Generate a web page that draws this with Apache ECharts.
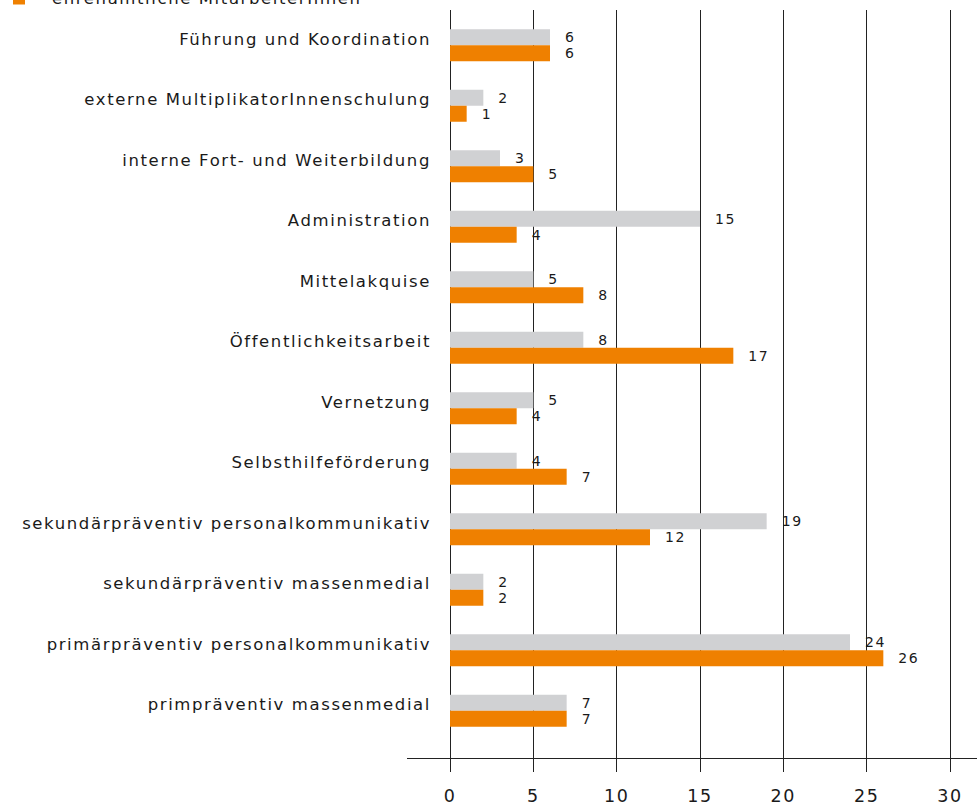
<!DOCTYPE html>
<html>
<head>
<meta charset="utf-8">
<script src="https://cdn.jsdelivr.net/npm/echarts@6/dist/echarts.min.js"></script>
<style>
  html, body { margin: 0; padding: 0; background: #fff; }
  #chart { width: 977px; height: 805px; }
  /* wide tracking for all chart text */
  #chart svg text { letter-spacing: 1.6px; }
</style>
</head>
<body>
<div id="chart"></div>
<script>
// Tätigkeitsbereiche, von oben nach unten
const categories = [
  'Führung und Koordination',
  'externe MultiplikatorInnenschulung',
  'interne Fort- und Weiterbildung',
  'Administration',
  'Mittelakquise',
  'Öffentlichkeitsarbeit',
  'Vernetzung',
  'Selbsthilfeförderung',
  'sekundärpräventiv personalkommunikativ',
  'sekundärpräventiv massenmedial',
  'primärpräventiv personalkommunikativ',
  'primpräventiv massenmedial'
];
const seriesNames = ['hauptamtliche MitarbeiterInnen', 'ehrenamtliche MitarbeiterInnen'];
const hauptamtlich = [6, 2, 3, 15, 5, 8, 5, 4, 19, 2, 24, 7];
const ehrenamtlich = [6, 1, 5, 4, 8, 17, 4, 7, 12, 2, 26, 7];
const xTicks = { min: 0, max: 30, step: 5 };

const FONT = 'DejaVu Sans';
const TEXT = '#1a1a1a';
const GREY = '#d0d1d3';
const ORANGE = '#ef8000';

const chart = echarts.init(document.getElementById('chart'), null, { renderer: 'svg' });

const labelStyle = {
  show: true,
  position: 'right',
  distance: 15,
  fontFamily: FONT,
  fontSize: 14,
  color: TEXT
};

chart.setOption({
  animation: false,
  backgroundColor: '#ffffff',
  textStyle: { fontFamily: FONT },
  legend: {
    orient: 'vertical',
    left: 8,
    top: -44,
    itemWidth: 12,
    itemHeight: 12,
    itemGap: 12,
    icon: 'rect',
    data: seriesNames,
    textStyle: { fontFamily: FONT, fontSize: 16.5, color: TEXT, padding: [0, 0, 0, 22] }
  },
  grid: [
    { left: 450, width: 500, top: 15, height: 726 },
    { left: 450, width: 500, top: 10, height: 748 }
  ],
  xAxis: [
    { type: 'value', gridIndex: 0, min: xTicks.min, max: xTicks.max, interval: xTicks.step, show: false },
    {
      type: 'value', gridIndex: 1, min: xTicks.min, max: xTicks.max, interval: xTicks.step,
      axisLine: { show: false },
      axisTick: { show: true, inside: false, length: 15, lineStyle: { color: '#222', width: 1 } },
      splitLine: { show: true, lineStyle: { color: '#222', width: 1 } },
      axisLabel: { fontFamily: FONT, fontSize: 17.5, color: TEXT, margin: 30 }
    }
  ],
  yAxis: [
    {
      type: 'category', gridIndex: 0, data: categories, inverse: true,
      axisLine: { show: false }, axisTick: { show: false }, splitLine: { show: false },
      axisLabel: {
        fontFamily: FONT, fontSize: 16.5, color: TEXT, margin: 19,
        verticalAlign: 'bottom', lineHeight: 12
      }
    },
    { type: 'value', gridIndex: 1, show: false }
  ],
  series: [
    {
      name: seriesNames[0], type: 'bar', xAxisIndex: 0, yAxisIndex: 0,
      data: hauptamtlich, barWidth: 16, barGap: '0%', z: 3,
      itemStyle: { color: GREY }, label: labelStyle
    },
    {
      name: seriesNames[1], type: 'bar', xAxisIndex: 0, yAxisIndex: 0,
      data: ehrenamtlich, barWidth: 16, barGap: '0%', z: 3,
      itemStyle: { color: ORANGE }, label: labelStyle
    }
  ],
  graphic: [
    {
      type: 'line', z: 10,
      shape: { x1: 407, y1: 758.5, x2: 977, y2: 758.5 },
      style: { stroke: '#222', lineWidth: 1 }
    }
  ]
});
</script>
</body>
</html>
